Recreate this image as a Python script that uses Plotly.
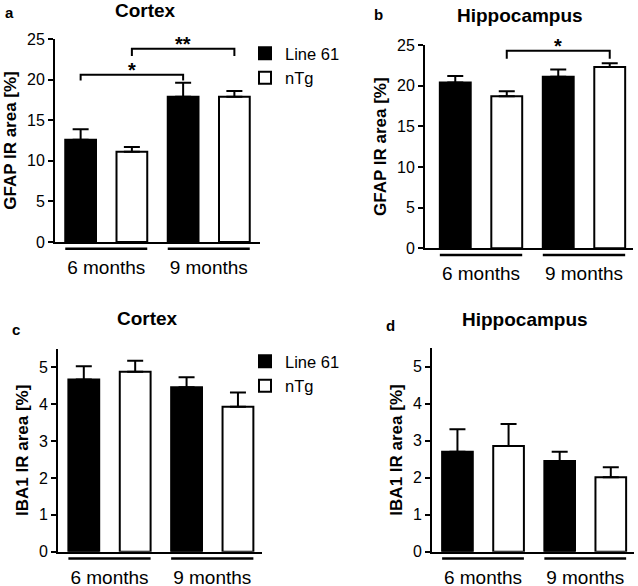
import plotly.graph_objects as go

W, H = 638, 586
FONT = "Liberation Sans, Arial, sans-serif"

months = ["6 months", "9 months"]
series = ["Line 61", "nTg"]

# Panel a: GFAP, Cortex
gfap_cortex_line61 = [12.6, 17.9]
gfap_cortex_line61_sem = [1.3, 1.7]
gfap_cortex_ntg = [11.1, 17.9]
gfap_cortex_ntg_sem = [0.6, 0.7]

# Panel b: GFAP, Hippocampus
gfap_hippo_line61 = [20.4, 21.1]
gfap_hippo_line61_sem = [0.8, 0.9]
gfap_hippo_ntg = [18.7, 22.3]
gfap_hippo_ntg_sem = [0.6, 0.45]

# Panel c: IBA1, Cortex
iba1_cortex_line61 = [4.67, 4.46]
iba1_cortex_line61_sem = [0.36, 0.27]
iba1_cortex_ntg = [4.88, 3.93]
iba1_cortex_ntg_sem = [0.30, 0.39]

# Panel d: IBA1, Hippocampus
iba1_hippo_line61 = [2.70, 2.45]
iba1_hippo_line61_sem = [0.61, 0.25]
iba1_hippo_ntg = [2.86, 2.01]
iba1_hippo_ntg_sem = [0.59, 0.27]

# significance brackets: (month_a, series_a, month_b, series_b, top, drop, label)
brackets_a = [("6 months", "Line 61", "9 months", "Line 61", 20.6, 19.9, "*"),
              ("6 months", "nTg", "9 months", "nTg", 23.8, 22.9, "**")]
brackets_b = [("6 months", "nTg", "9 months", "nTg", 24.3, 23.3, "*")]

panels = [
    dict(key="a", title="Cortex", ytitle="GFAP IR area [%]",
         vals=[gfap_cortex_line61, gfap_cortex_ntg],
         sems=[gfap_cortex_line61_sem, gfap_cortex_ntg_sem],
         px=(55, 260), py=(39, 242), yr=(0, 25), dtick=5, xr=(-0.5, 1.5),
         brackets=brackets_a, legend="legend",
         title_pos=(145, 10), letter_pos=(10, 13)),
    dict(key="b", title="Hippocampus", ytitle="GFAP IR area [%]",
         vals=[gfap_hippo_line61, gfap_hippo_ntg],
         sems=[gfap_hippo_line61_sem, gfap_hippo_ntg_sem],
         px=(425, 633), py=(45, 248.3), yr=(0, 25), dtick=5, xr=(-0.544, 1.476),
         brackets=brackets_b, legend=None,
         title_pos=(520, 16), letter_pos=(378, 14)),
    dict(key="c", title="Cortex", ytitle="IBA1 IR area [%]",
         vals=[iba1_cortex_line61, iba1_cortex_ntg],
         sems=[iba1_cortex_line61_sem, iba1_cortex_ntg_sem],
         px=(58, 262), py=(348.9, 551.7), yr=(0, 5.5), dtick=1, xr=(-0.501, 1.484),
         brackets=[], legend="legend2",
         title_pos=(147, 318), letter_pos=(16, 329)),
    dict(key="d", title="Hippocampus", ytitle="IBA1 IR area [%]",
         vals=[iba1_hippo_line61, iba1_hippo_ntg],
         sems=[iba1_hippo_line61_sem, iba1_hippo_ntg_sem],
         px=(432, 634), py=(348.2, 551.7), yr=(0, 5.5), dtick=1, xr=(-0.499, 1.477),
         brackets=[], legend=None,
         title_pos=(525, 319), letter_pos=(390, 325)),
]

colors = ["black", "white"]
fig = go.Figure()
annotations = []
shapes = []

def xpos(month, s):
    return months.index(month) + (series.index(s) - 0.5) * 0.5

for i, p in enumerate(panels):
    n = "" if i == 0 else str(i + 1)
    xa, ya = "x" + n, "y" + n
    for si, s in enumerate(series):
        fig.add_trace(go.Bar(
            x=months, y=p["vals"][si], name=s,
            xaxis=xa, yaxis=ya,
            marker=dict(color=colors[si], line=dict(color="black", width=2)),
            error_y=dict(type="data", array=p["sems"][si], arrayminus=[0, 0],
                         symmetric=False, color="black", thickness=2, width=8),
            showlegend=p["legend"] is not None,
            legend=p["legend"] if p["legend"] else "legend",
        ))
    x0, x1 = p["px"]
    ytop, ybot = p["py"]
    fig.update_layout({
        "xaxis" + n: dict(domain=[x0 / W, x1 / W], range=list(p["xr"]), anchor=ya,
                          showline=True, linecolor="black", linewidth=2,
                          ticks="outside", ticklen=7, tickcolor="rgba(0,0,0,0)",
                          automargin=False, showgrid=False, zeroline=False,
                          tickfont=dict(family=FONT, size=19, color="black")),
        "yaxis" + n: dict(domain=[1 - ybot / H, 1 - ytop / H], range=list(p["yr"]),
                          anchor=xa, dtick=p["dtick"], showline=True,
                          linecolor="black", linewidth=2, ticks="outside",
                          ticklen=5, tickwidth=2, tickcolor="black",
                          showgrid=False, zeroline=False, automargin=False,
                          tickfont=dict(family=FONT, size=16, color="black"),
                          title=dict(text="<b>" + p["ytitle"] + "</b>",
                                     font=dict(family=FONT, size=17, color="black"),
                                     standoff=6)),
    })
    # group underlines
    for m in months:
        c = months.index(m)
        shapes.append(dict(type="line", xref=xa, yref=ya + " domain",
                           x0=c - 0.4, x1=c + 0.4, y0=-0.033, y1=-0.033,
                           line=dict(color="black", width=2.5)))
    # brackets
    for (ma, sa, mb, sb, top, drop, lab) in p["brackets"]:
        xa0, xb0 = xpos(ma, sa), xpos(mb, sb)
        shapes.append(dict(type="path", xref=xa, yref=ya,
                           path=f"M {xa0},{drop} L {xa0},{top} L {xb0},{top} L {xb0},{drop}",
                           line=dict(color="black", width=2)))
        annotations.append(dict(x=(xa0 + xb0) / 2, y=top, xref=xa, yref=ya,
                                text="<b>" + lab + "</b>", showarrow=False,
                                yanchor="middle", yshift=5,
                                font=dict(family=FONT, size=20, color="black")))
    # titles and letters
    tx, ty = p["title_pos"]
    annotations.append(dict(x=tx / W, y=1 - ty / H, xref="paper", yref="paper",
                            text="<b>" + p["title"] + "</b>", showarrow=False,
                            xanchor="center", yanchor="middle",
                            font=dict(family=FONT, size=19, color="black")))
    lx, ly = p["letter_pos"]
    annotations.append(dict(x=lx / W, y=1 - ly / H, xref="paper", yref="paper",
                            text="<b>" + p["key"] + "</b>", showarrow=False,
                            xanchor="center", yanchor="middle",
                            font=dict(family=FONT, size=15, color="black")))

fig.update_layout(
    width=W, height=H, margin=dict(l=0, r=0, t=0, b=0, autoexpand=False),
    plot_bgcolor="white", paper_bgcolor="white",
    barmode="group", bargap=0.0, bargroupgap=0.4,
    showlegend=True,
    legend=dict(x=245 / W, y=1 - 36 / H, xanchor="left", yanchor="top",
                font=dict(family=FONT, size=16.5, color="black"),
                bgcolor="rgba(0,0,0,0)", tracegroupgap=0),
    legend2=dict(x=245 / W, y=1 - 344 / H, xanchor="left", yanchor="top",
                 font=dict(family=FONT, size=16.5, color="black"),
                 bgcolor="rgba(0,0,0,0)", tracegroupgap=0),
    annotations=annotations, shapes=shapes,
    font=dict(family=FONT, color="black"),
)

fig.write_html("out.html", config={"displayModeBar": False},
               post_script="document.body.style.margin='0';document.body.style.padding='0';")
